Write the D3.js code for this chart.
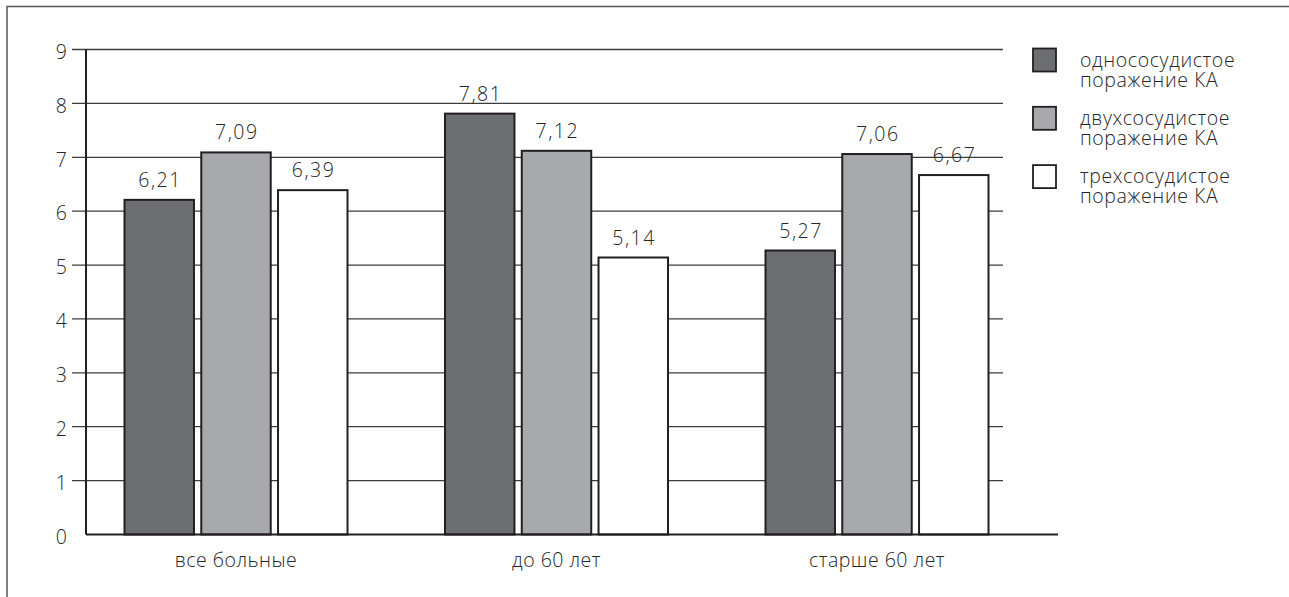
<!DOCTYPE html>
<html>
<head>
<meta charset="utf-8">
<script src="https://cdn.jsdelivr.net/npm/d3@7/dist/d3.min.js"></script>
<style>
  html, body { margin: 0; padding: 0; background: #fff; }
  svg { display: block; font-family: "Open Sans", sans-serif; font-weight: 300; }
</style>
</head>
<body>
<svg id="chart" width="1289" height="597"></svg>
<script>
// Patient groups along the x axis
const categories = ["все больные", "до 60 лет", "старше 60 лет"];

// Series: number of affected coronary arteries
const seriesKeys = ["one", "two", "three"];
const seriesLabels = [
  ["однососудистое", "поражение КА"],
  ["двухсосудистое", "поражение КА"],
  ["трехсосудистое", "поражение КА"]
];
const seriesColors = ["#6d6e71", "#a7a9ac", "#ffffff"];

// Values per group
const oneVessel   = [6.21, 7.81, 5.27];
const twoVessel   = [7.09, 7.12, 7.06];
const threeVessel = [6.39, 5.14, 6.67];

// Y axis ticks
const yTicks = [0, 1, 2, 3, 4, 5, 6, 7, 8, 9];

const seriesValues = [oneVessel, twoVessel, threeVessel];
const rows = categories.map((c, i) => ({
  category: c,
  values: seriesKeys.map((k, j) => ({ key: k, idx: j, value: seriesValues[j][i] }))
}));

const svg = d3.select("#chart");
const ink = "#231f20";
const textColor = "#262626";

const fmt = d3.formatLocale({ decimal: ",", thousands: " ", grouping: [3], currency: ["", ""] }).format(".2f");

// Outer frame
svg.append("rect")
  .attr("x", 7).attr("y", 6.5)
  .attr("width", 1400).attr("height", 700)
  .attr("fill", "none").attr("stroke", "#555").attr("stroke-width", 1.5);

const axisX = 86, gridLeft = 72, gridRight = 1003, baseRight = 1058;

const y = d3.scaleLinear().domain([0, 9]).range([534.5, 49.5]);
const x = d3.scalePoint().domain(categories).range([236, 877]);
const xInner = d3.scaleBand().domain(seriesKeys).range([-111.5, 111.5]).paddingInner(0.095).paddingOuter(0);

// Grid lines
svg.append("g").selectAll("line")
  .data(yTicks.filter(t => t > 0))
  .join("line")
  .attr("x1", gridLeft).attr("x2", gridRight)
  .attr("y1", d => y(d)).attr("y2", d => y(d))
  .attr("stroke", "#3c3c3c").attr("stroke-width", 1.3);

// Tick labels
svg.append("g").selectAll("text")
  .data(yTicks)
  .join("text")
  .attr("x", 67).attr("y", d => y(d) + 2.5)
  .attr("dy", "0.35em")
  .attr("text-anchor", "end")
  .attr("font-size", 19.5)
  .attr("fill", textColor)
  .text(d => d);

// Bars
const groups = svg.append("g").selectAll("g")
  .data(rows)
  .join("g")
  .attr("transform", d => `translate(${x(d.category)},0)`);

groups.selectAll("rect")
  .data(d => d.values)
  .join("rect")
  .attr("x", d => xInner(d.key))
  .attr("width", xInner.bandwidth())
  .attr("y", d => y(d.value))
  .attr("height", d => y(0) - y(d.value))
  .attr("fill", d => seriesColors[d.idx])
  .attr("stroke", ink).attr("stroke-width", 2);

// Value labels above bars
groups.selectAll("text")
  .data(d => d.values)
  .join("text")
  .attr("x", d => xInner(d.key) + xInner.bandwidth() / 2 + 0.8)
  .attr("y", d => y(d.value) - 13)
  .attr("text-anchor", "middle")
  .attr("font-size", 19.5)
  .attr("letter-spacing", 1.5)
  .attr("fill", textColor)
  .text(d => fmt(d.value));

// Axes lines
svg.append("line")
  .attr("x1", axisX).attr("x2", axisX)
  .attr("y1", y(9)).attr("y2", y(0))
  .attr("stroke", ink).attr("stroke-width", 2);
svg.append("line")
  .attr("x1", axisX).attr("x2", baseRight)
  .attr("y1", y(0)).attr("y2", y(0))
  .attr("stroke", ink).attr("stroke-width", 2);

// Category labels
svg.append("g").selectAll("text")
  .data(categories)
  .join("text")
  .attr("x", d => x(d))
  .attr("y", 567)
  .attr("text-anchor", "middle")
  .attr("font-size", 19.5)
  .attr("letter-spacing", 0.5)
  .attr("fill", textColor)
  .text(d => d);

// Legend
const legend = svg.append("g").selectAll("g")
  .data(seriesLabels)
  .join("g")
  .attr("transform", (d, i) => `translate(1033,${48.5 + i * 58.3})`);

legend.append("rect")
  .attr("width", 23).attr("height", 23)
  .attr("fill", (d, i) => seriesColors[i])
  .attr("stroke", ink).attr("stroke-width", 1.8);

legend.append("text")
  .attr("x", 47)
  .attr("font-size", 19.5)
  .attr("letter-spacing", 0.6)
  .attr("fill", textColor)
  .selectAll("tspan")
  .data(d => d)
  .join("tspan")
  .attr("x", 47)
  .attr("y", (d, i) => 18 + i * 20)
  .text(d => d);
</script>
</body>
</html>
